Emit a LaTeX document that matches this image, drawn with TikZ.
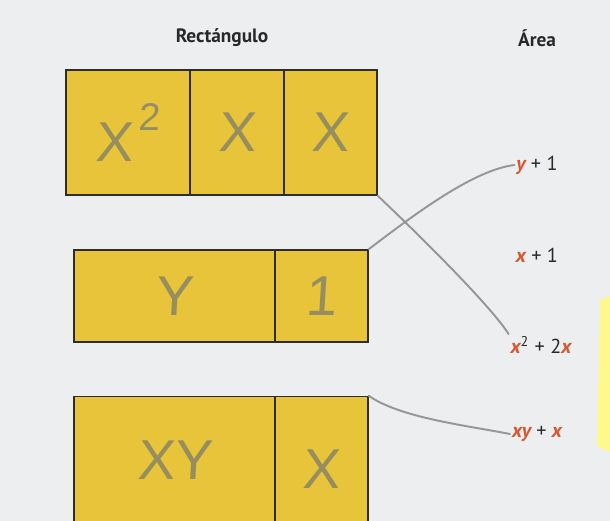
\documentclass[tikz,border=0pt]{standalone}
\usepackage{fontspec}
\setmainfont{PT Sans}
\newfontfamily\handfont[FakeSlant=0.06]{Liberation Sans}
\definecolor{bgc}{RGB}{236,238,239}
\definecolor{celly}{RGB}{232,196,58}
\definecolor{edgec}{RGB}{45,45,45}
\definecolor{pencilc}{RGB}{150,150,150}
\definecolor{handc}{RGB}{150,142,95}
\definecolor{varc}{RGB}{214,88,48}
\definecolor{txtc}{RGB}{40,40,40}
\newcommand{\vr}[1]{{\color{varc}\bfseries\itshape #1}}
\tikzset{
  cell/.style={draw=edgec,line width=0.9pt,fill=celly,inner sep=0pt,
    text=handc,font=\handfont\fontsize{32}{32}\selectfont},
  area/.style={text=txtc,inner sep=1pt,font=\fontsize{11.5}{13}\selectfont},
  head/.style={text=txtc,font=\bfseries\fontsize{11}{13}\selectfont},
  pencil/.style={draw=pencilc,line width=1.1pt,line cap=round}
}
\begin{document}
\begin{tikzpicture}[x=0.02cm,y=-0.02cm]
  \clip (0,0) rectangle (610,521);
  \fill[bgc] (0,0) rectangle (610,521);
  % sticky note at the edge
  \fill[yellow!45] (600,300) -- (610,296) -- (610,452) -- (597,446) -- cycle;
  % Headings
  \node[head] (hrect) at (222,38) {Rectángulo};
  \node[head] (harea) at (537,38) {Área};
  % Top: x^2, x, x
  \node[cell,minimum width=2.48cm,minimum height=2.5cm] (c11) at (128,132.5) {X\kern3pt\raisebox{0.55em}{\fontsize{22}{22}\selectfont 2}};
  \node[cell,minimum width=1.88cm,minimum height=2.5cm] (c12) at (237,132.5) {X};
  \node[cell,minimum width=1.86cm,minimum height=2.5cm] (c13) at (330.5,132.5) {X};
  % Middle: y, 1
  \node[cell,minimum width=4.02cm,minimum height=1.84cm] (c21) at (174.5,296) {Y};
  \node[cell,minimum width=1.86cm,minimum height=1.84cm] (c22) at (321.5,296) {1};
  % Bottom: xy, x
  \node[cell,minimum width=4.02cm,minimum height=2.9cm] (c31) at (174.5,469) {\raisebox{0.3em}{XY}};
  \node[cell,minimum width=1.86cm,minimum height=2.9cm] (c32) at (321.5,469) {X};
  % Areas
  \node[area] (ly) at (537,165) {\vr{y} + 1};
  \node[area] (lx) at (537,255) {\vr{x} + 1};
  \node[area] (lxx) at (541,345) {\vr{x}\textsuperscript{2} + 2\vr{x}};
  \node[area] (lxy) at (537,434) {\vr{xy} + \vr{x}};
  % pencil lines
  \draw[pencil] (c13.south east) .. controls (440,255) and (495,312) .. (lxx.north west);
  \draw[pencil] (c22.north east) .. controls (420,210) and (475,170) .. (ly.west);
  \draw[pencil] (c32.north east) .. controls (400,418) and (470,426) .. (lxy.west);
\end{tikzpicture}
\end{document}
